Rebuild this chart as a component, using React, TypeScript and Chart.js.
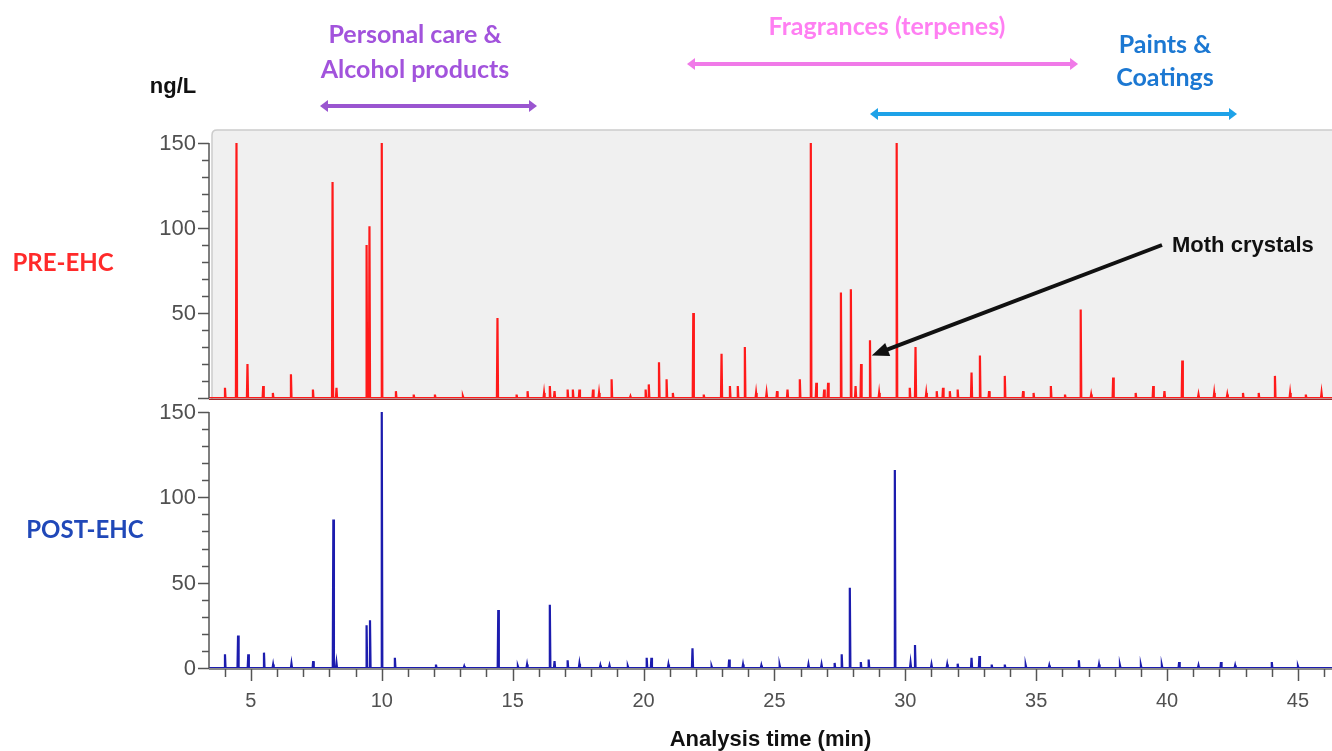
import React, { useEffect, useRef } from "react";
import { Chart, registerables } from "chart.js";

Chart.register(...registerables);

// ---------- data ----------
const X_MIN = 3.4;
const X_MAX = 46.3;

// PRE-EHC peaks: retention time (min) and height (ng/L)
const preTimes = [
  4.01, 4.45, 4.87, 5.47, 5.84, 6.53, 7.37, 8.12, 8.27, 9.42, 9.53, 10.0, 10.54, 11.22, 12.03, 13.1,
  14.42, 15.15, 15.57, 16.2, 16.42, 16.6, 17.1, 17.3, 17.55, 18.07, 18.3, 18.78, 19.5, 20.08, 20.2,
  20.59, 20.88, 21.12, 21.9, 22.3, 22.98, 23.3, 23.6, 23.87, 24.3, 24.7, 25.1, 25.5, 25.97, 26.39,
  26.6, 26.9, 27.05, 27.54, 27.92, 28.1, 28.31, 28.65, 29.0, 29.67, 30.17, 30.39, 30.8, 31.2, 31.44,
  31.7, 32.0, 32.53, 32.85, 33.2, 33.8, 34.5, 34.9, 35.56, 36.1, 36.7, 37.1, 37.94, 38.8, 39.47,
  39.9, 40.58, 41.2, 41.8, 42.3, 42.9, 43.5, 44.12, 44.7, 45.3, 45.9,
];
const preHeights = [
  6, 150, 20, 7, 3, 14, 5, 127, 6, 90, 101, 150, 4, 2, 2, 1,
  47, 2, 4, 3, 7, 4, 5, 5, 5, 5, 3, 11, 1, 5, 8,
  21, 11, 3, 50, 2, 26, 7, 7, 30, 3, 3, 4, 5, 11, 150,
  9, 5, 9, 62, 64, 7, 20, 34, 3, 150, 6, 30, 3, 4, 6,
  4, 5, 15, 25, 4, 13, 4, 3, 7, 2, 52, 2, 12, 3, 7,
  4, 22, 2, 3, 2, 3, 3, 13, 3, 2, 3,
];

// POST-EHC peaks
const postTimes = [
  4.01, 4.51, 4.9, 5.5, 5.85, 6.55, 7.38, 8.15, 8.27, 9.42, 9.55, 10.0, 10.5, 12.07, 13.15, 14.45,
  15.2, 15.55, 16.42, 16.6, 17.1, 17.55, 18.35, 18.7, 19.4, 20.12, 20.3, 20.95, 21.87, 22.6, 23.27,
  23.8, 24.5, 25.2, 26.3, 26.8, 27.3, 27.57, 27.88, 28.3, 28.6, 29.6, 30.2, 30.37, 31.0, 31.6, 32.0,
  32.53, 32.83, 33.3, 33.8, 34.6, 35.5, 36.63, 37.4, 38.2, 39.0, 39.8, 40.46, 41.2, 42.06, 42.6,
  44.0, 45.0,
];
const postHeights = [
  8, 19, 8, 9, 2, 2.5, 4, 87, 3, 25, 28, 150, 6, 2, 1, 34,
  1, 2, 37, 4, 4.5, 2.5, 1.5, 1.5, 1, 6, 6, 2, 11.5, 1, 5,
  2, 1.5, 1.5, 2, 2, 3, 8, 47, 3.5, 5, 116, 3, 13.5, 2, 2, 2.5,
  6, 7, 2, 2, 1.5, 1.5, 4.5, 2, 1.5, 1.5, 1.5, 3.5, 1.5, 3.5, 1.5,
  3.5, 1,
];

const xLabelEvery = 5; // labelled x ticks (min)
const yLabelsPre = [50, 100, 150];
const yLabelsPost = [0, 50, 100, 150];

// source-category bands (retention-time ranges, min)
const bandNames = [["Personal care &", "Alcohol products"], ["Fragrances (terpenes)"], ["Paints &", "Coatings"]];
const bandStart = [7.64, 21.66, 28.65];
const bandEnd = [15.93, 36.6, 42.67];

const mothLabel = "Moth crystals";
const mothTime = 28.72;
const mothValue = 25;

// ---------- helpers ----------
type Pt = { x: number; y: number };
function buildTrace(times: number[], heights: number[]): Pt[] {
  const idx = times.map((_, i) => i).sort((a, b) => times[a] - times[b]);
  const pts: Pt[] = [{ x: X_MIN, y: 0 }];
  for (const i of idx) {
    const t = times[i];
    pts.push({ x: t - 0.022, y: 0 }, { x: t, y: heights[i] }, { x: t + 0.022, y: 0 });
  }
  pts.push({ x: X_MAX, y: 0 });
  return pts;
}

const AXIS = "#555555";
const TICK_FONT = '"Liberation Sans", Arial, sans-serif';

function drawYAxis(chart: any, labels: number[]) {
  const ctx = chart.ctx;
  const y = chart.scales.y;
  const left = chart.chartArea.left;
  ctx.save();
  ctx.strokeStyle = AXIS;
  ctx.lineWidth = 1.5;
  ctx.beginPath();
  ctx.moveTo(left, y.getPixelForValue(150));
  ctx.lineTo(left, y.getPixelForValue(0));
  ctx.stroke();
  for (let v = 0; v <= 150; v += 10) {
    const py = Math.round(y.getPixelForValue(v)) + 0.5;
    const len = v % 50 === 0 ? 11 : 7;
    ctx.beginPath();
    ctx.moveTo(left - len, py);
    ctx.lineTo(left, py);
    ctx.stroke();
  }
  ctx.fillStyle = "#505050";
  ctx.font = `22px ${TICK_FONT}`;
  ctx.textAlign = "right";
  ctx.textBaseline = "middle";
  for (const v of labels) {
    ctx.fillText(String(v), left - 13, y.getPixelForValue(v) + 1);
  }
  ctx.restore();
}

function dblArrow(ctx: CanvasRenderingContext2D, x1: number, x2: number, y: number, color: string) {
  ctx.save();
  ctx.strokeStyle = color;
  ctx.fillStyle = color;
  ctx.lineWidth = 4;
  const head = 8;
  const hw = 6;
  ctx.beginPath();
  ctx.moveTo(x1 + head - 1, y);
  ctx.lineTo(x2 - head + 1, y);
  ctx.stroke();
  ctx.beginPath();
  ctx.moveTo(x1, y);
  ctx.lineTo(x1 + head, y - hw);
  ctx.lineTo(x1 + head, y + hw);
  ctx.closePath();
  ctx.fill();
  ctx.beginPath();
  ctx.moveTo(x2, y);
  ctx.lineTo(x2 - head, y - hw);
  ctx.lineTo(x2 - head, y + hw);
  ctx.closePath();
  ctx.fill();
  ctx.restore();
}

const topPlugin = {
  id: "topDecor",
  beforeDatasetsDraw(chart: any) {
    const { ctx, chartArea } = chart;
    const l = chartArea.left + 3;
    const t = chartArea.top;
    const r = chartArea.right + 20;
    const b = chartArea.bottom + 2;
    ctx.save();
    ctx.beginPath();
    const rad = 5;
    ctx.moveTo(l, b);
    ctx.lineTo(l, t + rad);
    ctx.quadraticCurveTo(l, t, l + rad, t);
    ctx.lineTo(r, t);
    ctx.lineTo(r, b);
    ctx.closePath();
    ctx.fillStyle = "#f0f0f0";
    ctx.fill();
    ctx.strokeStyle = "#cccccc";
    ctx.lineWidth = 1.5;
    ctx.stroke();
    ctx.restore();
  },
  afterDraw(chart: any) {
    const { ctx, chartArea } = chart;
    const x = chart.scales.x;
    const y = chart.scales.y;
    drawYAxis(chart, yLabelsPre);
    ctx.save();
    // dark baseline of the PRE panel
    ctx.strokeStyle = "#9a2a2a";
    ctx.lineWidth = 2;
    ctx.beginPath();
    ctx.moveTo(chartArea.left, chartArea.bottom + 1.5);
    ctx.lineTo(chartArea.right, chartArea.bottom + 1.5);
    ctx.stroke();

    // unit label
    ctx.fillStyle = "#111111";
    ctx.font = 'bold 22px "Liberation Sans", Arial, sans-serif';
    ctx.textAlign = "center";
    ctx.textBaseline = "middle";
    ctx.fillText("ng/L", 173, 87);

    // panel label
    ctx.font = 'bold 24px Lato, "Open Sans", sans-serif';
    ctx.fillStyle = "#ff2a2a";
    ctx.fillText("PRE-EHC", 63, 263);

    // bands
    const bandText = ["#a253dc", "#ff7ff2", "#1c78d2"];
    const bandArrow = ["#9a55d0", "#f07ae8", "#1ea2e8"];
    const bandArrowY = [106, 64, 114];
    const bandTextX = [415, 887, 1165];
    const bandTextY = [[35, 70], [27], [45, 78]];
    ctx.font = 'bold 25px Lato, "Open Sans", sans-serif';
    for (let i = 0; i < bandNames.length; i++) {
      dblArrow(ctx, x.getPixelForValue(bandStart[i]), x.getPixelForValue(bandEnd[i]), bandArrowY[i], bandArrow[i]);
      ctx.fillStyle = bandText[i];
      bandNames[i].forEach((s, j) => ctx.fillText(s, bandTextX[i], bandTextY[i][j]));
    }

    // moth crystals arrow
    const tx = x.getPixelForValue(mothTime);
    const ty = y.getPixelForValue(mothValue);
    const sx = 1162;
    const sy = 245;
    const ang = Math.atan2(ty - sy, tx - sx);
    const hl = 17;
    const hw = 7;
    ctx.strokeStyle = "#111111";
    ctx.fillStyle = "#111111";
    ctx.lineWidth = 4;
    ctx.beginPath();
    ctx.moveTo(sx, sy);
    ctx.lineTo(tx - Math.cos(ang) * (hl - 2), ty - Math.sin(ang) * (hl - 2));
    ctx.stroke();
    ctx.beginPath();
    ctx.moveTo(tx, ty);
    ctx.lineTo(tx - Math.cos(ang) * hl - Math.sin(ang) * hw, ty - Math.sin(ang) * hl + Math.cos(ang) * hw);
    ctx.lineTo(tx - Math.cos(ang) * hl + Math.sin(ang) * hw, ty - Math.sin(ang) * hl - Math.cos(ang) * hw);
    ctx.closePath();
    ctx.fill();
    ctx.font = 'bold 22px "Liberation Sans", Arial, sans-serif';
    ctx.textAlign = "left";
    ctx.fillText(mothLabel, 1172, 246);
    ctx.restore();
  },
};

const bottomPlugin = {
  id: "bottomDecor",
  beforeDatasetsDraw(chart: any) {
    const { ctx, chartArea } = chart;
    ctx.save();
    ctx.strokeStyle = "#8a8a8a";
    ctx.lineWidth = 2;
    ctx.beginPath();
    ctx.moveTo(chartArea.left, chartArea.bottom + 1);
    ctx.lineTo(chartArea.right, chartArea.bottom + 1);
    ctx.stroke();
    ctx.restore();
  },
  afterDraw(chart: any) {
    const { ctx, chartArea } = chart;
    const x = chart.scales.x;
    drawYAxis(chart, yLabelsPost);
    ctx.save();
    ctx.strokeStyle = AXIS;
    ctx.lineWidth = 1.5;
    const b = chartArea.bottom + 1;
    for (let v = Math.ceil(X_MIN); v <= X_MAX; v += 1) {
      const px = Math.round(x.getPixelForValue(v)) + 0.5;
      const len = v % xLabelEvery === 0 ? 12 : 8;
      ctx.beginPath();
      ctx.moveTo(px, b);
      ctx.lineTo(px, b + len);
      ctx.stroke();
    }
    ctx.font = 'bold 24px Lato, "Open Sans", sans-serif';
    ctx.fillStyle = "#2048b8";
    ctx.textAlign = "center";
    ctx.textBaseline = "middle";
    ctx.fillText("POST-EHC", 85, 530 - 398);
    ctx.restore();
  },
};

function yAxisOpts(max: number) {
  return {
    type: "linear" as const,
    min: 0,
    max,
    afterFit: (s: any) => {
      s.width = 209;
    },
    grid: { display: false },
    border: { display: false },
    ticks: { display: false, stepSize: 10 },
  };
}

export default function App() {
  const topRef = useRef<HTMLCanvasElement>(null);
  const botRef = useRef<HTMLCanvasElement>(null);

  useEffect(() => {
    document.body.style.margin = "0";
    const top = new Chart(topRef.current as HTMLCanvasElement, {
      type: "line",
      data: {
        datasets: [
          {
            data: buildTrace(preTimes, preHeights),
            borderColor: "#ff1a1a",
            borderWidth: 2.2,
            pointRadius: 0,
            tension: 0,
            fill: false,
          },
        ],
      },
      options: {
        animation: false,
        responsive: false,
        devicePixelRatio: 1,
        layout: { padding: { top: 130, left: 0, right: 0, bottom: 2 } },
        plugins: { legend: { display: false }, tooltip: { enabled: false } },
        scales: {
          x: { type: "linear", min: X_MIN, max: X_MAX, display: false },
          y: yAxisOpts(157.6),
        },
      } as any,
      plugins: [topPlugin],
    });

    const bottom = new Chart(botRef.current as HTMLCanvasElement, {
      type: "line",
      data: {
        datasets: [
          {
            data: buildTrace(postTimes, postHeights),
            borderColor: "#1c1cae",
            borderWidth: 2.2,
            pointRadius: 0,
            tension: 0,
            fill: false,
          },
        ],
      },
      options: {
        animation: false,
        responsive: false,
        devicePixelRatio: 1,
        layout: { padding: { top: 14, left: 0, right: 0, bottom: 0 } },
        plugins: { legend: { display: false }, tooltip: { enabled: false } },
        scales: {
          x: {
            type: "linear",
            min: X_MIN,
            max: X_MAX,
            afterFit: (s: any) => {
              s.height = 83;
            },
            grid: { display: false },
            border: { display: false },
            ticks: {
              stepSize: 1,
              autoSkip: false,
              maxRotation: 0,
              padding: 13,
              color: "#505050",
              font: { family: TICK_FONT, size: 20 },
              callback: (v: any) =>
                Number.isInteger(v) && v % xLabelEvery === 0 ? String(v) : null,
            },
            title: {
              display: true,
              text: "Analysis time (min)",
              color: "#111111",
              font: { family: TICK_FONT, size: 22, weight: "bold", lineHeight: 1 },
              padding: { top: 0, bottom: 0 },
            },
          },
          y: yAxisOpts(150),
        },
      } as any,
      plugins: [bottomPlugin],
    });

    return () => {
      top.destroy();
      bottom.destroy();
    };
  }, []);

  return (
    <div style={{ position: "relative", width: 1332, height: 751, background: "#ffffff", overflow: "hidden" }}>
      <style>{"body{margin:0}"}</style>
      <canvas
        ref={botRef}
        width={1332}
        height={353}
        style={{ position: "absolute", left: 0, top: 398, width: 1332, height: 353 }}
      />
      <canvas
        ref={topRef}
        width={1332}
        height={400}
        style={{ position: "absolute", left: 0, top: 0, width: 1332, height: 400 }}
      />
    </div>
  );
}
